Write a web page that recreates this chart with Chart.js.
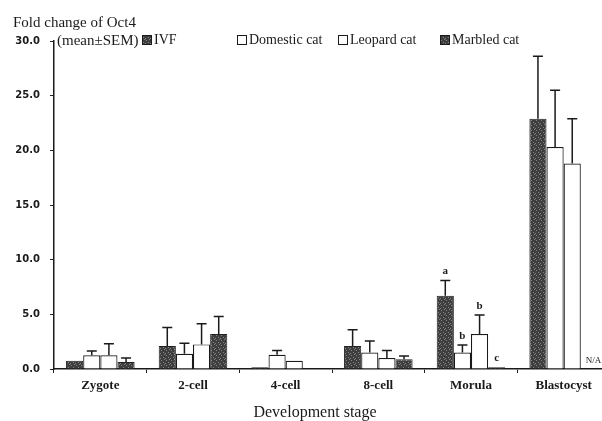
<!DOCTYPE html>
<html>
<head>
<meta charset="utf-8">
<script src="https://cdn.jsdelivr.net/npm/chart.js@4"></script>
<style>
  body { margin: 0; background: #fff; overflow: hidden; }
</style>
</head>
<body>
<canvas id="oct4Chart" width="620" height="421"></canvas>
<script>
// data (fold change, mean and SEM)
const stages = ["Zygote", "2-cell", "4-cell", "8-cell", "Morula", "Blastocyst"];
const ivf = [0.75, 2.1, 0.15, 2.1, 6.7, 22.9];
const ivfSem = [0, 1.7, 0, 1.5, 1.4, 5.7];
const domestic = [1.25, 1.4, 1.3, 1.5, 1.5, 20.3];
const domesticSem = [0.4, 0.95, 0.4, 1.05, 0.7, 5.2];
const leopard = [1.25, 2.25, 0.75, 1.0, 3.2, 18.8];
const leopardSem = [1.05, 1.9, 0, 0.7, 1.75, 4.1];
const marbled = [0.65, 3.2, 0, 0.9, 0.15, null];
const marbledSem = [0.35, 1.6, 0, 0.3, 0, null];

// letters above the morula bars, N/A for missing marbled blastocyst
const ivfMarks = ["", "", "", "", "a", ""];
const domesticMarks = ["", "", "", "", "b", ""];
const leopardMarks = ["", "", "", "", "b", ""];
const marbledMarks = ["", "", "", "", "c", "N/A"];

// speckled dark fill like the printed bars
function speckle() {
  const c = document.createElement("canvas");
  c.width = 5; c.height = 5;
  const g = c.getContext("2d");
  g.fillStyle = "#3e3e3e";
  g.fillRect(0, 0, 5, 5);
  g.fillStyle = "#858585";
  g.fillRect(1, 0, 1, 1);
  g.fillRect(3, 2, 1, 1);
  g.fillRect(0, 3, 1, 1);
  g.fillRect(4, 4, 1, 1);
  return g.createPattern(c, "repeat");
}
const darkFill = speckle();

const serif = "'Liberation Serif', 'Times New Roman', serif";

const errorBars = {
  id: "errorBars",
  afterDatasetsDraw(chart) {
    const ctx = chart.ctx;
    const y = chart.scales.y;
    ctx.save();
    chart.data.datasets.forEach((ds, di) => {
      const meta = chart.getDatasetMeta(di);
      meta.data.forEach((bar, i) => {
        const v = ds.data[i];
        const e = ds.errors[i];
        let top = y.getPixelForValue(v || 0);
        if (v != null && e > 0) {
          top = y.getPixelForValue(v + e);
          ctx.strokeStyle = "#1a1a1a";
          ctx.lineWidth = 1.5;
          ctx.beginPath();
          ctx.moveTo(bar.x, y.getPixelForValue(v));
          ctx.lineTo(bar.x, top);
          ctx.moveTo(bar.x - 5, top);
          ctx.lineTo(bar.x + 5, top);
          ctx.stroke();
        }
        const m = ds.marks[i];
        if (m) {
          ctx.fillStyle = "#1a1a1a";
          ctx.textAlign = "center";
          ctx.textBaseline = "alphabetic";
          if (m === "N/A") {
            ctx.font = "9px " + serif;
            ctx.fillText(m, bar.x + 4, top - 6);
          } else {
            ctx.font = "bold 11px " + serif;
            ctx.fillText(m, bar.x, top - 6);
          }
        }
      });
    });
    ctx.restore();
  }
};

const labelsAndLegend = {
  id: "labelsAndLegend",
  afterDraw(chart) {
    const ctx = chart.ctx;
    ctx.save();
    ctx.fillStyle = "#1a1a1a";
    ctx.textBaseline = "alphabetic";
    ctx.textAlign = "left";
    ctx.font = "15px " + serif;
    ctx.fillText("Fold change of Oct4", 13, 27);
    ctx.fillText("(mean\u00b1SEM)", 57, 45);

    const boxX = [142, 237, 338, 440];
    ctx.font = "14px " + serif;
    chart.data.datasets.forEach((ds, i) => {
      ctx.fillStyle = ds.backgroundColor;
      ctx.fillRect(boxX[i], 35, 9, 9);
      ctx.strokeStyle = "#1a1a1a";
      ctx.lineWidth = 1;
      ctx.strokeRect(boxX[i] + 0.5, 35.5, 9, 9);
      ctx.fillStyle = "#1a1a1a";
      ctx.fillText(ds.label, boxX[i] + 12, 44);
    });

    ctx.textAlign = "center";
    ctx.font = "16px " + serif;
    ctx.fillText("Development stage", 315, 417);
    ctx.restore();
  }
};

const ctx = document.getElementById("oct4Chart").getContext("2d");

const oct4Chart = new Chart(ctx, {
  type: "bar",
  data: {
    labels: stages,
    datasets: [
      { label: "IVF", data: ivf, errors: ivfSem, marks: ivfMarks,
        backgroundColor: darkFill, borderColor: "#222", borderWidth: 1 },
      { label: "Domestic cat", data: domestic, errors: domesticSem, marks: domesticMarks,
        backgroundColor: "#ffffff", borderColor: "#1a1a1a", borderWidth: 1.2 },
      { label: "Leopard cat", data: leopard, errors: leopardSem, marks: leopardMarks,
        backgroundColor: "#ffffff", borderColor: "#1a1a1a", borderWidth: 1.2 },
      { label: "Marbled cat", data: marbled, errors: marbledSem, marks: marbledMarks,
        backgroundColor: darkFill, borderColor: "#222", borderWidth: 1 }
    ]
  },
  options: {
    responsive: false,
    animation: false,
    layout: { padding: { top: 41, right: 10, left: 0, bottom: 0 } },
    datasets: {
      bar: { categoryPercentage: 0.74, barPercentage: 1.0 }
    },
    plugins: {
      legend: { display: false },
      tooltip: { enabled: false }
    },
    scales: {
      x: {
        grid: { drawOnChartArea: false, tickLength: 4, color: "#222", lineWidth: 1 },
        border: { color: "#1a1a1a", width: 1.5 },
        ticks: { color: "#1a1a1a", padding: 5, font: { family: serif, size: 13, weight: "bold" } },
        afterFit: (s) => { s.height = 52; }
      },
      y: {
        min: 0,
        max: 30,
        grid: { drawOnChartArea: false, tickLength: 4, color: "#222", lineWidth: 1 },
        border: { color: "#1a1a1a", width: 1.5 },
        ticks: {
          stepSize: 5,
          color: "#1a1a1a",
          padding: 10,
          font: { family: "'DejaVu Sans', sans-serif", size: 10, weight: "bold" },
          callback: (v) => v.toFixed(1)
        },
        afterFit: (s) => { s.width = 54; }
      }
    }
  },
  plugins: [errorBars, labelsAndLegend]
});
</script>
</body>
</html>
